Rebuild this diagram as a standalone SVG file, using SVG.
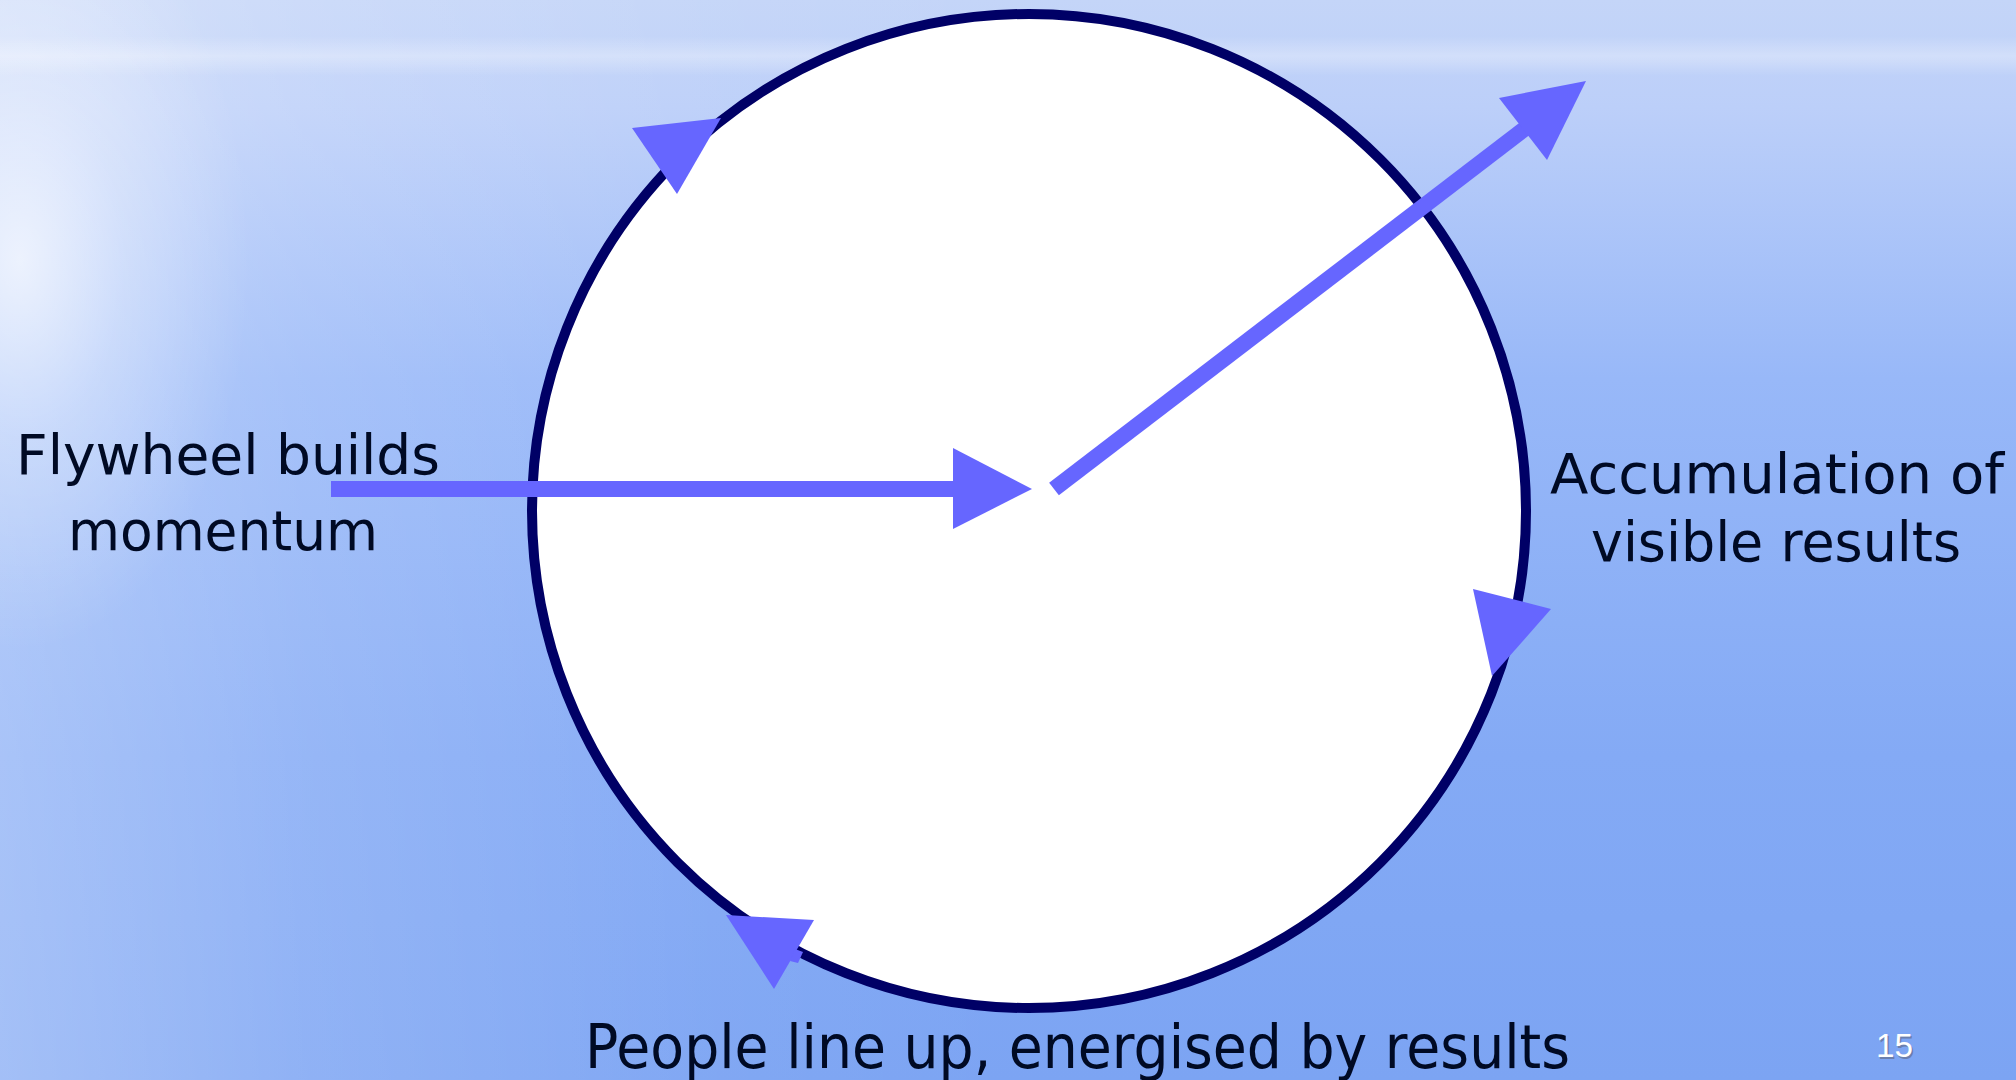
<svg xmlns="http://www.w3.org/2000/svg" width="2016" height="1080" viewBox="0 0 2016 1080">
  <defs>
    <linearGradient id="sky" x1="0" y1="0" x2="0" y2="1">
      <stop offset="0" stop-color="#c4d5f8"/>
      <stop offset="0.1" stop-color="#bccff9"/>
      <stop offset="0.35" stop-color="#98b8f8"/>
      <stop offset="0.7" stop-color="#84aaf5"/>
      <stop offset="1" stop-color="#7ca4f3"/>
    </linearGradient>
    <linearGradient id="leftGlow" x1="0" y1="0" x2="1" y2="0">
      <stop offset="0" stop-color="#ffffff" stop-opacity="0.3"/>
      <stop offset="0.15" stop-color="#ffffff" stop-opacity="0.15"/>
      <stop offset="0.35" stop-color="#ffffff" stop-opacity="0.04"/>
      <stop offset="0.5" stop-color="#ffffff" stop-opacity="0"/>
    </linearGradient>
    <radialGradient id="glare" cx="20" cy="260" r="230" gradientUnits="userSpaceOnUse" gradientTransform="translate(20 260) scale(1 1.7) translate(-20 -260)">
      <stop offset="0" stop-color="#ffffff" stop-opacity="0.7"/>
      <stop offset="0.45" stop-color="#ffffff" stop-opacity="0.3"/>
      <stop offset="1" stop-color="#ffffff" stop-opacity="0"/>
    </radialGradient>
    <linearGradient id="band" x1="0" y1="0" x2="0" y2="1">
      <stop offset="0" stop-color="#ffffff" stop-opacity="0"/>
      <stop offset="0.5" stop-color="#ffffff" stop-opacity="0.3"/>
      <stop offset="1" stop-color="#ffffff" stop-opacity="0"/>
    </linearGradient>
    <style>
      .lbl { font-family: "DejaVu Sans", Verdana, sans-serif; font-size: 56px; fill: #000a24; }
      .big { font-size: 61px; }
      .arrow { fill: #6666ff; }
      .shaft { stroke: #6666ff; stroke-width: 16; fill: none; }
      .wheel { fill: #ffffff; stroke: #000066; stroke-width: 10; }
      .num { font-family: "Liberation Sans", Arial, sans-serif; font-size: 33px; }
    </style>
  </defs>

  <g id="background">
    <rect x="0" y="0" width="2016" height="1080" fill="url(#sky)"/>
    <rect x="0" y="0" width="2016" height="1080" fill="url(#leftGlow)"/>
    <rect x="0" y="0" width="600" height="1080" fill="url(#glare)"/>
    <rect x="0" y="36" width="2016" height="40" fill="url(#band)"/>
  </g>

  <g id="flywheel">
    <ellipse class="wheel" cx="1029" cy="511" rx="497" ry="497"/>
  </g>

  <g id="connectors">
    <g id="arrow-in">
      <line class="shaft" x1="331" y1="489" x2="956" y2="489"/>
      <polygon class="arrow" points="953,448 1032,489 953,529"/>
    </g>
    <g id="arrow-out">
      <line class="shaft" x1="1054" y1="489" x2="1527" y2="127"/>
      <polygon class="arrow" points="1586,81 1499,98 1547,160"/>
    </g>
    <g id="cycle-heads">
      <polygon class="arrow" points="721,118 632,128 677,194"/>
      <polygon class="arrow" points="1492,676 1473,589 1551,609"/>
      <polygon class="arrow" points="726,915 814,920 774,989"/>
      <polygon class="arrow" points="795,949 803,952 798,963 790,961"/>
    </g>
  </g>

  <g id="label-left">
    <text class="lbl" x="16" y="474" textLength="424" lengthAdjust="spacingAndGlyphs">Flywheel builds</text>
    <text class="lbl" x="68" y="550" textLength="310" lengthAdjust="spacingAndGlyphs">momentum</text>
  </g>
  <g id="label-right">
    <text class="lbl" x="1550" y="493" textLength="454" lengthAdjust="spacingAndGlyphs">Accumulation of</text>
    <text class="lbl" x="1591" y="561" textLength="370" lengthAdjust="spacingAndGlyphs">visible results</text>
  </g>
  <g id="label-bottom">
    <text class="lbl big" x="585" y="1068" textLength="985" lengthAdjust="spacingAndGlyphs">People line up, energised by results</text>
  </g>
  <g id="page-number">
    <text class="num" x="1877.5" y="1058.5" fill="#6b7fae" textLength="37" lengthAdjust="spacingAndGlyphs">15</text>
    <text class="num" x="1876" y="1057" fill="#ffffff" textLength="37" lengthAdjust="spacingAndGlyphs">15</text>
  </g>
</svg>
